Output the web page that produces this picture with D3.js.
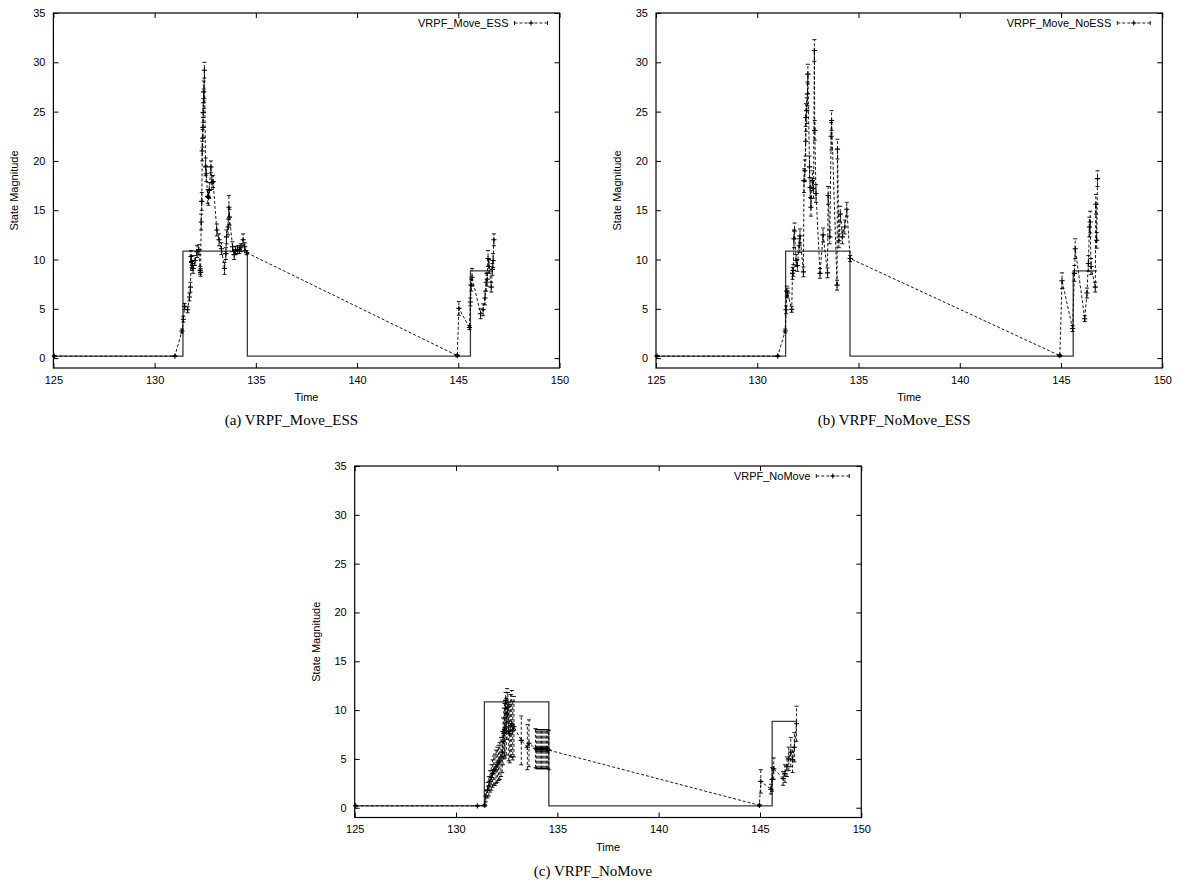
<!DOCTYPE html>
<html><head><meta charset="utf-8">
<script src="https://cdn.jsdelivr.net/npm/d3@7"></script>
<style>
html,body{margin:0;padding:0;background:#fff;}
svg{display:block;}
</style></head>
<body>
<svg id="chart" width="1182" height="883"></svg>
<script>
// ---------- data ----------
const xTicks = [125, 130, 135, 140, 145, 150];
const yTicks = [0, 5, 10, 15, 20, 25, 30, 35];
const legendLabels = ["VRPF_Move_ESS", "VRPF_Move_NoESS", "VRPF_NoMove"];
const captions = ["(a)  VRPF_Move_ESS", "(b)  VRPF_NoMove_ESS", "(c)  VRPF_NoMove"];
const xLabel = "Time";
const yLabel = "State Magnitude";

// ground truth (step function)
const truthT = [125, 131.4, 134.58, 145.6];
const truthV = [0.2, 10.85, 0.2, 8.85];
const truthEnd = [146.68, 146.78, 146.84];

// (a) VRPF_Move_ESS
const tA = [125.05, 131.0, 131.35, 131.42, 131.48, 131.63, 131.72, 131.77, 131.8, 131.83, 131.86, 131.9, 132.0, 132.1, 132.18, 132.25, 132.27, 132.3, 132.33, 132.35, 132.37, 132.39, 132.4, 132.42, 132.43, 132.46, 132.52, 132.55, 132.62, 132.66, 132.7, 132.78, 132.83, 132.89, 133.07, 133.18, 133.3, 133.45, 133.52, 133.55, 133.63, 133.67, 133.7, 133.85, 133.93, 134.0, 134.1, 134.19, 134.26, 134.37, 134.45, 134.54, 144.95, 145.03, 145.55, 145.6, 145.64, 145.68, 146.1, 146.23, 146.32, 146.38, 146.43, 146.47, 146.52, 146.63, 146.68, 146.72, 146.76];
const vA = [0.2, 0.2, 2.75, 3.95, 5.25, 4.9, 6.2, 7.2, 10.3, 9.8, 9.4, 9.1, 9.9, 10.8, 11.0, 8.9, 8.7, 13.8, 15.9, 21.0, 22.3, 23.4, 24.9, 27.0, 26.3, 29.2, 19.4, 18.7, 16.4, 16.3, 17.0, 19.4, 17.8, 17.9, 13.0, 12.0, 11.1, 9.1, 10.6, 12.3, 13.3, 15.3, 14.3, 11.3, 10.5, 10.9, 11.0, 11.0, 11.2, 12.0, 11.3, 10.7, 0.25, 5.05, 3.1, 5.7, 7.4, 8.2, 4.5, 4.9, 6.1, 7.7, 8.0, 10.1, 9.3, 7.2, 9.0, 9.9, 12.0];
const eA = [0.05, 0.05, 0.2, 0.3, 0.3, 0.3, 0.4, 0.5, 0.6, 0.6, 0.5, 0.5, 0.5, 0.6, 0.5, 0.4, 0.4, 0.8, 0.9, 1.0, 0.9, 1.0, 1.0, 1.1, 1.0, 0.8, 0.9, 0.8, 0.7, 0.8, 0.8, 0.6, 0.7, 0.6, 0.6, 0.6, 0.6, 0.6, 0.6, 0.7, 0.8, 1.2, 0.8, 0.5, 0.5, 0.4, 0.4, 0.4, 0.4, 0.6, 0.4, 0.2, 0.1, 0.7, 0.2, 0.4, 0.6, 0.9, 0.5, 0.6, 0.7, 0.9, 0.7, 0.8, 0.7, 0.5, 0.6, 0.7, 0.6];

// (b) VRPF_Move_NoESS
const tB = [125.05, 131.01, 131.38, 131.42, 131.46, 131.5, 131.7, 131.74, 131.78, 131.81, 131.84, 131.92, 131.98, 132.07, 132.11, 132.28, 132.31, 132.35, 132.39, 132.4, 132.44, 132.48, 132.5, 132.58, 132.61, 132.65, 132.72, 132.78, 132.82, 132.84, 132.9, 133.1, 133.25, 133.47, 133.5, 133.58, 133.65, 133.67, 133.94, 133.96, 134.03, 134.1, 134.2, 134.32, 134.42, 134.59, 144.94, 145.05, 145.57, 145.66, 145.7, 146.17, 146.28, 146.35, 146.4, 146.44, 146.48, 146.69, 146.72, 146.76, 146.8];
const vB = [0.2, 0.2, 2.75, 4.9, 6.8, 6.6, 4.95, 8.6, 8.9, 12.1, 12.9, 9.9, 9.4, 11.4, 12.4, 8.75, 18.0, 19.0, 22.0, 24.4, 25.1, 26.8, 28.8, 19.4, 17.3, 15.3, 18.0, 17.2, 31.2, 23.1, 16.7, 8.6, 12.5, 8.65, 16.5, 12.3, 22.5, 24.1, 7.4, 21.2, 11.9, 14.6, 12.3, 13.3, 15.1, 10.1, 0.25, 7.85, 3.0, 8.6, 11.1, 4.0, 6.6, 9.6, 13.3, 13.8, 9.3, 7.2, 15.6, 11.95, 18.2];
const eB = [0.05, 0.05, 0.2, 0.4, 0.5, 0.5, 0.3, 0.6, 0.6, 0.9, 0.8, 0.6, 0.6, 0.7, 0.7, 0.5, 1.2, 1.1, 1.5, 1.4, 1.3, 1.2, 1.0, 1.1, 1.0, 0.9, 1.0, 1.0, 1.1, 1.0, 0.9, 0.5, 0.7, 0.5, 0.9, 0.7, 1.4, 1.0, 0.5, 1.0, 0.7, 0.8, 0.7, 0.7, 0.7, 0.3, 0.1, 0.8, 0.3, 0.8, 1.0, 0.3, 0.5, 0.8, 1.0, 1.1, 0.8, 0.5, 1.0, 0.8, 0.8];

// (c) VRPF_NoMove
const tC = [125.05, 131.05, 131.42, 131.47, 131.55, 131.62, 131.68, 131.74, 131.8, 131.86, 131.92, 131.98, 132.04, 132.1, 132.16, 132.22, 132.28, 132.32, 132.36, 132.39, 132.42, 132.45, 132.48, 132.52, 132.56, 132.6, 132.65, 132.7, 132.75, 132.8, 132.86, 133.22, 133.52, 133.6, 133.92, 133.98, 134.04, 134.1, 134.16, 134.22, 134.28, 134.34, 134.4, 134.46, 134.52, 134.58, 144.97, 145.04, 145.54, 145.6, 145.68, 146.14, 146.23, 146.33, 146.42, 146.52, 146.61, 146.7, 146.8];
const vC = [0.2, 0.2, 0.25, 1.2, 1.8, 2.2, 2.7, 3.1, 3.5, 3.8, 3.9, 4.2, 4.4, 4.6, 4.8, 5.2, 5.7, 6.8, 7.6, 8.0, 7.9, 11.0, 8.3, 9.6, 10.3, 7.8, 7.6, 8.4, 8.6, 7.9, 8.3, 6.9, 6.2, 6.6, 6.1, 6.0, 6.0, 6.0, 6.0, 6.0, 6.0, 6.0, 6.0, 6.0, 6.0, 5.9, 0.25, 2.7, 1.9, 2.9, 4.0, 3.0, 3.5, 4.2, 5.0, 5.7, 4.9, 6.2, 8.6];
const eC = [0.05, 0.05, 0.1, 0.6, 0.8, 1.0, 1.1, 1.3, 1.4, 1.5, 1.6, 1.7, 1.8, 1.8, 1.9, 2.0, 2.1, 2.4, 2.6, 2.7, 2.8, 0.8, 2.9, 2.6, 1.5, 3.0, 3.0, 3.2, 3.4, 3.0, 3.1, 2.5, 2.3, 2.4, 2.0, 2.0, 2.0, 2.0, 2.0, 2.0, 2.0, 2.0, 2.0, 2.0, 2.0, 2.0, 0.1, 1.2, 0.5, 1.2, 1.1, 0.7, 0.9, 1.0, 1.2, 1.5, 1.3, 1.5, 1.8];

// ---------- drawing ----------
const svg = d3.select("#chart");
const FONT = "'Liberation Sans', Arial, Helvetica, sans-serif";
const SERIF = "'Liberation Serif', 'Times New Roman', serif";

const panels = [
  {x0: 53.4, x1: 559.5, y0: 13, y1: 368, t: tA, v: vA, e: eA, capY: 425},
  {x0: 656, x1: 1162.3, y0: 13, y1: 368, t: tB, v: vB, e: eB, capY: 425},
  {x0: 354.7, x1: 861.3, y0: 466, y1: 817.5, t: tC, v: vC, e: eC, capY: 876}
];

function plus(g, cx, cy, s) {
  g.append("path").attr("d", `M${cx - s},${cy}H${cx + s}M${cx},${cy - s}V${cy + s}`)
    .attr("stroke", "#000").attr("stroke-width", 1.1).attr("fill", "none");
}

panels.forEach((p, i) => {
  const x = d3.scaleLinear().domain([125, 150]).range([p.x0, p.x1]);
  const y = d3.scaleLinear().domain([-1, 35]).range([p.y1, p.y0]);
  const g = svg.append("g");

  const ax = [
    g.append("g").attr("transform", `translate(0,${p.y1})`).call(d3.axisBottom(x).tickValues(xTicks).tickSize(-5).tickPadding(8)),
    g.append("g").attr("transform", `translate(0,${p.y0})`).call(d3.axisTop(x).tickValues(xTicks).tickSize(-5).tickFormat("")),
    g.append("g").attr("transform", `translate(${p.x0},0)`).call(d3.axisLeft(y).tickValues(yTicks).tickSize(-5).tickPadding(8)),
    g.append("g").attr("transform", `translate(${p.x1},0)`).call(d3.axisRight(y).tickValues(yTicks).tickSize(-5).tickFormat(""))
  ];
  ax.forEach(a => {
    a.select(".domain").remove();
    a.selectAll("line").attr("stroke", "#000").attr("stroke-width", 1);
    a.selectAll("text").attr("font-family", FONT).attr("font-size", 11).attr("fill", "#000");
  });

  g.append("rect").attr("x", p.x0).attr("y", p.y0).attr("width", p.x1 - p.x0).attr("height", p.y1 - p.y0)
    .attr("fill", "none").attr("stroke", "#000").attr("stroke-width", 1.2);

  g.append("text").attr("x", (p.x0 + p.x1) / 2).attr("y", p.y1 + 33).attr("text-anchor", "middle")
    .attr("font-family", FONT).attr("font-size", 11).text(xLabel);
  g.append("text").attr("transform", `translate(${p.x0 - 35},${(p.y0 + p.y1) / 2}) rotate(-90)`)
    .attr("text-anchor", "middle").attr("font-family", FONT).attr("font-size", 11).text(yLabel);

  const tt = truthT.concat([truthEnd[i]]);
  const tv = truthV.concat([truthV[truthV.length - 1]]);
  const truthPts = tt.map((d, k) => [d, tv[k]]);
  g.append("path").datum(truthPts)
    .attr("d", d3.line().x(d => x(d[0])).y(d => y(d[1])).curve(d3.curveStepAfter))
    .attr("fill", "none").attr("stroke", "#3a3a3a").attr("stroke-width", 1.3);

  const pts = p.t.map((d, k) => ({t: d, v: p.v[k], e: p.e[k]}));
  g.append("path").datum(pts)
    .attr("d", d3.line().x(d => x(d.t)).y(d => y(d.v)))
    .attr("fill", "none").attr("stroke", "#000").attr("stroke-width", 0.9).attr("stroke-dasharray", "3,2");

  const eb = g.append("g");
  pts.forEach(d => {
    const cx = x(d.t), ya = y(d.v - d.e), yb = y(d.v + d.e);
    eb.append("line").attr("x1", cx).attr("x2", cx).attr("y1", ya).attr("y2", yb)
      .attr("stroke", "#000").attr("stroke-width", 0.9).attr("stroke-dasharray", "3,2");
    eb.append("path").attr("d", `M${cx - 2},${ya}H${cx + 2}M${cx - 2},${yb}H${cx + 2}`)
      .attr("stroke", "#000").attr("stroke-width", 0.9);
    plus(eb, cx, y(d.v), 2.6);
  });

  const ly = p.y0 + 10;
  g.append("text").attr("x", p.x1 - 51).attr("y", ly + 4).attr("text-anchor", "end")
    .attr("font-family", FONT).attr("font-size", 11).text(legendLabels[i]);
  const lx0 = p.x1 - 45, lx1 = p.x1 - 12;
  g.append("line").attr("x1", lx0).attr("x2", lx1).attr("y1", ly).attr("y2", ly)
    .attr("stroke", "#000").attr("stroke-width", 0.9).attr("stroke-dasharray", "3,2");
  g.append("path").attr("d", `M${lx0},${ly - 2}V${ly + 2}M${lx1},${ly - 2}V${ly + 2}`)
    .attr("stroke", "#000").attr("stroke-width", 0.9);
  plus(g, (lx0 + lx1) / 2, ly, 2.6);

  g.append("text").attr("x", (p.x0 + p.x1) / 2 - 15).attr("y", p.capY).attr("text-anchor", "middle")
    .attr("font-family", SERIF).attr("font-size", 15).text(captions[i]);
});
</script>
</body></html>
